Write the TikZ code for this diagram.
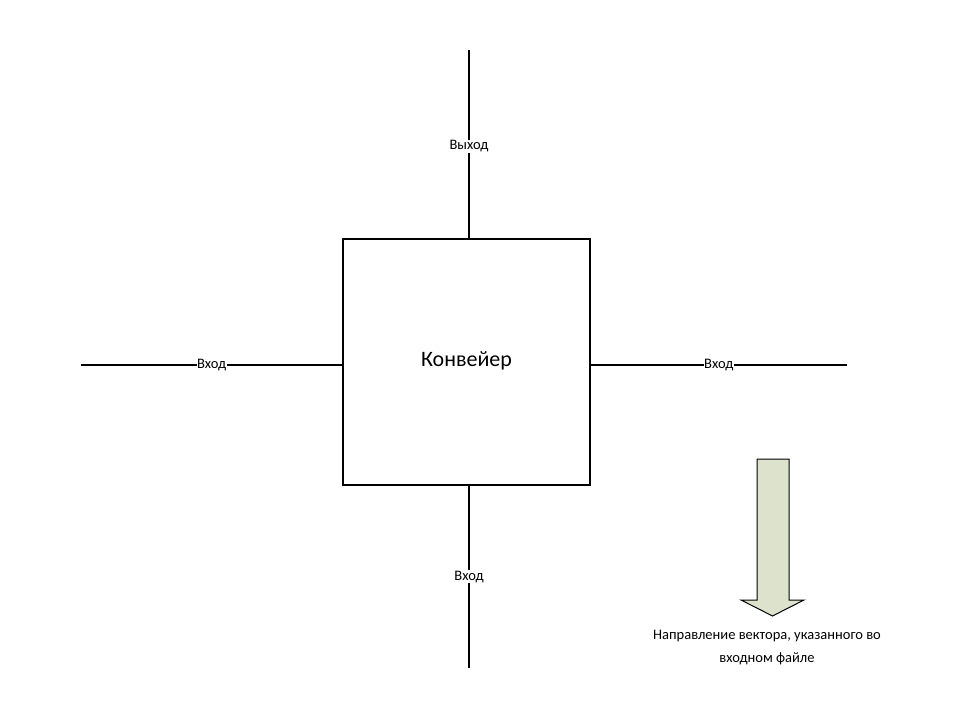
\documentclass[tikz,border=0pt]{standalone}
\usepackage{fontspec}
\setmainfont{Carlito}
\usetikzlibrary{shapes.arrows}
\definecolor{arrowfill}{RGB}{221,226,205}
\tikzset{
  lbl/.style={fill=white,inner sep=0.5pt,font=\fontsize{14.5}{17}\selectfont},
  wire/.style={draw=black,line width=1.3pt},
  boxst/.style={draw=black,line width=1.3pt,minimum width=247pt,minimum height=246pt,inner sep=0pt,font=\fontsize{22}{26}\selectfont}
}
\begin{document}
\begin{tikzpicture}[x=1pt,y=-1pt]
\useasboundingbox (0,0) rectangle (972,727);
\node[boxst] (box) at (466.5,362) {};
\node[font=\fontsize{22}{26}\selectfont] (title) at (466.5,361) {Конвейер};
\coordinate (top) at (469,50);
\coordinate (bot) at (469,668);
\coordinate (left) at (81,365);
\coordinate (right) at (847,365);
\draw[wire] (top) -- (top |- box.north) node[lbl,pos=0.5,yshift=-2pt] (out) {Выход};
\draw[wire] (bot |- box.south) -- (bot) node[lbl,pos=0.5] (inb) {Вход};
\draw[wire] (left) -- (left -| box.west) node[lbl,pos=0.5] (inl) {Вход};
\draw[wire] (right -| box.east) -- (right) node[lbl,pos=0.5] (inr) {Вход};
\draw[line width=1pt,fill=arrowfill] (757,459) -- (789,459) -- (789,600) -- (804,600) -- (772.5,616) -- (741,600) -- (757,600) -- cycle;
\node[align=center,font=\fontsize{14.5}{23}\selectfont] (note) at (767,647.5) {Направление вектора, указанного во\\входном файле};
\end{tikzpicture}
\end{document}
